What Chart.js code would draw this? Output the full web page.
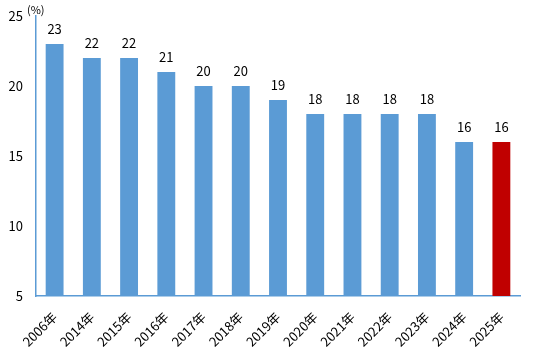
<!DOCTYPE html>
<html><head><meta charset="utf-8">
<script src="https://cdn.jsdelivr.net/npm/chart.js@4"></script>
<style>html,body{margin:0;padding:0;background:#fff}#wrap{width:535px;height:357px}</style>
</head><body><div id="wrap"><canvas id="c"></canvas></div>
<script>
const categories = ["2006年","2014年","2015年","2016年","2017年","2018年","2019年","2020年","2021年","2022年","2023年","2024年","2025年"];
const values = [23,22,22,21,20,20,19,18,18,18,18,16,16];
const yTicks = [5,10,15,20,25];
const unitLabel = "(%)";
const blue = "#5B9BD5", red = "#C00000";
const FONT = "'Noto Sans CJK JP', 'DejaVu Sans', sans-serif";

const labelPlugin = {
  id: 'lbl',
  afterDatasetsDraw(chart) {
    const ctx = chart.ctx;
    const meta = chart.getDatasetMeta(0);
    ctx.save();
    ctx.font = "13px " + FONT;
    ctx.fillStyle = "#000";
    ctx.textAlign = "center";
    ctx.textBaseline = "alphabetic";
    meta.data.forEach((bar, i) => {
      ctx.fillText(String(values[i]), bar.x, bar.y - 10);
    });
    const ya = chart.scales.y;
    ctx.font = "11px " + FONT;
    ctx.textAlign = "left";
    ctx.textBaseline = "middle";
    ctx.fillText(unitLabel, ya.right - 9, ya.getPixelForValue(25) - 6);
    ctx.restore();
  }
};

new Chart(document.getElementById('c'), {
  type: 'bar',
  data: {
    labels: categories,
    datasets: [{
      data: values,
      backgroundColor: values.map((v, i) => i === values.length - 1 ? red : blue),
      categoryPercentage: 1,
      barPercentage: 0.48
    }]
  },
  options: {
    responsive: true,
    maintainAspectRatio: false,
    animation: false,
    layout: { padding: { top: 16, right: 15, left: 0, bottom: 0 } },
    plugins: { legend: { display: false }, tooltip: { enabled: false } },
    scales: {
      x: {
        grid: { display: false, drawTicks: false },
        border: { color: blue, width: 1.5 },
        ticks: { color: "#000", font: { family: FONT, size: 13 }, minRotation: 45, maxRotation: 45, padding: 13 },
        afterFit(s) { s.height = 61; s.paddingLeft = 0; s.paddingRight = 0; }
      },
      y: {
        min: 5, max: 25,
        grid: { display: false, drawTicks: false },
        border: { color: blue, width: 1.5 },
        afterBuildTicks(s) { s.ticks = yTicks.map(v => ({ value: v })); },
        ticks: { color: "#000", font: { family: FONT, size: 13 }, padding: 13 },
        afterFit(s) { s.width = 36; s.paddingTop = 0; s.paddingBottom = 0; }
      }
    }
  },
  plugins: [labelPlugin]
});
</script></body></html>
